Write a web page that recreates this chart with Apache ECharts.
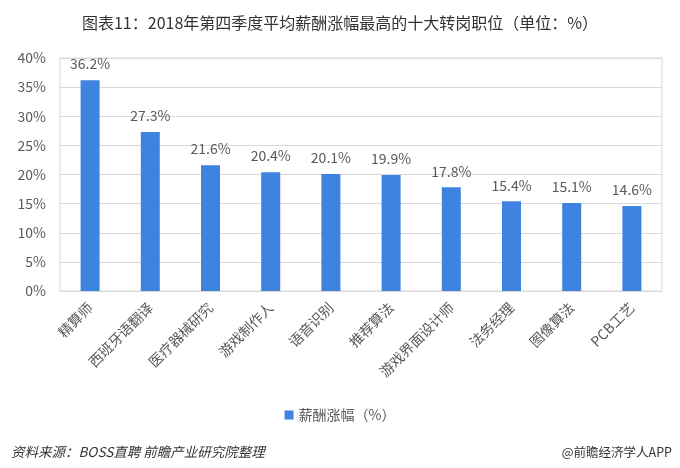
<!DOCTYPE html>
<html><head><meta charset="utf-8">
<script src="https://cdn.jsdelivr.net/npm/echarts@6/dist/echarts.min.js"></script>
<style>html,body{margin:0;padding:0;background:#fff}#c{width:680px;height:468px}</style>
</head><body><div id="c"></div>
<script>
var categories = ['精算师','西班牙语翻译','医疗器械研究','游戏制作人','语音识别','推荐算法','游戏界面设计师','法务经理','图像算法','PCB工艺'];
var values = [36.2,27.3,21.6,20.4,20.1,19.9,17.8,15.4,15.1,14.6];
var seriesName = '薪酬涨幅（%）';
var yTicks = [0,5,10,15,20,25,30,35,40];
var font = '"Microsoft YaHei","Noto Sans CJK SC",sans-serif';
var chart = echarts.init(document.getElementById('c'));
chart.setOption({
  animation:false,
  textStyle:{fontFamily:font},
  title:[{text:'图表11：2018年第四季度平均薪酬涨幅最高的十大转岗职位（单位：%）',left:'center',top:10,textStyle:{fontSize:16,fontWeight:'normal',color:'#333',fontFamily:font}},
    {text:'资料来源：BOSS直聘 前瞻产业研究院整理',left:6,top:440,textStyle:{fontSize:13.5,fontStyle:'italic',fontWeight:'normal',color:'#333',fontFamily:font}},
    {text:'@前瞻经济学人APP',right:3,top:441,textStyle:{fontSize:12.5,fontWeight:'normal',color:'#333',fontFamily:font}}],
  legend:{data:[seriesName],top:403,left:'center',itemWidth:9,itemHeight:9,itemGap:4,textStyle:{fontSize:14,color:'#595959'},icon:'rect'},
  grid:{left:60,right:18,top:58,bottom:177,show:true,borderColor:'#d9d9d9',borderWidth:1},
  xAxis:{type:'category',data:categories,axisTick:{show:false},axisLine:{lineStyle:{color:'#d9d9d9'}},
    axisLabel:{rotate:45,fontSize:14,color:'#595959',interval:0,margin:14}},
  yAxis:{type:'value',min:0,max:40,interval:5,axisLine:{show:false},axisTick:{show:false},
    splitLine:{lineStyle:{color:'#d9d9d9'}},
    axisLabel:{fontSize:14,color:'#595959',margin:14,formatter:function(v){return v+'%';}}},
  series:[{name:seriesName,type:'bar',data:values,barWidth:19,itemStyle:{color:'#3f83e0'},
    label:{show:true,position:'top',distance:9,fontSize:14,color:'#595959',formatter:function(p){return p.value.toFixed(1)+'%';}}}]
});
</script></body></html>
